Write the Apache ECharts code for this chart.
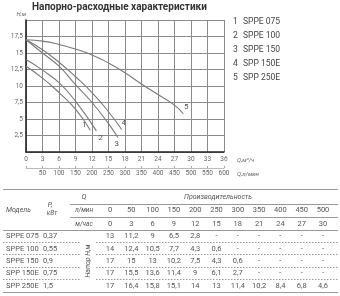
<!DOCTYPE html>
<html>
<head>
<meta charset="utf-8">
<script src="https://cdn.jsdelivr.net/npm/echarts@6/dist/echarts.min.js"></script>
<style>
  html, body { margin: 0; padding: 0; background: #fff; }
  #chart { width: 340px; height: 296px; }
</style>
</head>
<body>
<div id="chart"></div>
<script>
  // модели насосов
  const models = ['SPPE 075', 'SPPE 100', 'SPPE 150', 'SPP 150E', 'SPP 250E']
  const powerKw = ['0,37', '0,55', '0,9', '0,75', '1,5']

  // производительность (шапка таблицы)
  const flowLmin = [0, 50, 100, 150, 200, 250, 300, 350, 400, 450, 500]
  const flowM3h = [0, 3, 6, 9, 12, 15, 18, 21, 24, 27, 30]

  // напор, м (таблица)
  const headSPPE075 = [13, 11.2, 9, 6.5, 2.8]
  const headSPPE100 = [14, 12.4, 10.5, 7.7, 4.3, 0.6]
  const headSPPE150 = [17, 15, 13, 10.2, 7.5, 4.3, 0.6]
  const headSPP150E = [17, 15.5, 13.6, 11.4, 9, 6.1, 2.7]
  const headSPP250E = [17, 16.4, 15.8, 15.1, 14, 13, 11.4, 10.2, 8.4, 6.8, 4.6]

  // кривые на графике [Q м3/ч, H м]
  const curveSPPE075 = [[0, 13], [3, 11.2], [6, 9], [9, 6.5], [11.7, 3.3]]
  const curveSPPE100 = [[0, 14], [3, 12.4], [6, 10.5], [9, 7.7], [12.8, 3.2]]
  const curveSPPE150 = [[0, 17], [3, 15], [6, 13], [9, 10.2], [12, 7.5], [15, 4.3], [16.7, 2.2]]
  const curveSPP150E = [[0, 17], [3, 15.5], [6, 13.6], [9, 11.4], [12, 9], [15, 6.1], [17.4, 3.4]]
  const curveSPP250E = [[0, 17], [3, 16.8], [6, 16.3], [9, 15.6], [12, 14.7], [15, 13.5], [18, 12], [21, 10.3], [24, 8.7], [27, 7.1], [28.6, 5.8]]

  const headRows = [headSPPE075, headSPPE100, headSPPE150, headSPP150E, headSPP250E]
  const curves = [curveSPPE075, curveSPPE100, curveSPPE150, curveSPP150E, curveSPP250E]
  const labelOffsets = [[-6, -5], [4, 7], [-1, 7], [2, -7], [3, -7]]

  const font = 'Roboto'
  const txtColor = '#555'
  const fmt = v => (v === undefined || v === null) ? '-' : String(v).replace('.', ',')

  const series = curves.map((c, idx) => ({
    name: models[idx],
    type: 'line',
    smooth: true,
    symbol: 'circle',
    symbolSize: 0.1,
    showSymbol: true,
    silent: true,
    lineStyle: { color: '#7a7a7a', width: 1.1 },
    itemStyle: { color: '#7a7a7a' },
    data: c.map((p, i) => i === c.length - 1 ? {
      value: p,
      label: {
        show: true,
        position: 'inside',
        offset: labelOffsets[idx],
        formatter: String(idx + 1),
        fontSize: 8,
        color: '#555',
        fontFamily: font
      }
    } : p)
  }))

  // таблица и легенда
  const graphic = []
  const text = (x, y, t, opt) => graphic.push(Object.assign({
    type: 'text', x: x, y: y, silent: true,
    style: Object.assign({
      text: t, fontSize: 7.5, fill: txtColor, fontFamily: font,
      align: 'left', verticalAlign: 'middle'
    }, (opt && opt.style) || {})
  }, (opt && opt.el) || {}))
  const line = (x1, y, x2, dash) => graphic.push({
    type: 'line', silent: true,
    shape: { x1: x1, y1: y + 0.5, x2: x2, y2: y + 0.5 },
    style: { stroke: '#999', lineWidth: 1, lineDash: dash ? [1.5, 1.5] : null }
  })

  models.forEach((m, i) => {
    text(233, 22 + i * 13.9, String(i + 1), { style: { fontSize: 8.5, fill: '#444' } })
    text(243, 22 + i * 13.9, m, { style: { fontSize: 8.5, fill: '#444' } })
  })

  const colX = i => 110 + i * 21.3
  line(3, 189, 338)
  line(70, 204, 338)
  line(70, 217, 338)
  line(3, 230, 338)
  line(3, 292, 338)
  ;[242, 254, 267, 279].forEach(y => {
    line(3, y, 80, true)
    line(96, y, 338, true)
  })

  text(84, 197, 'Q', { style: { fontStyle: 'italic', align: 'center' } })
  text(218, 197, 'Производительность', { style: { fontStyle: 'italic', align: 'center', fontSize: 7 } })
  text(6, 210, 'Модель', { style: { fontStyle: 'italic', fontSize: 7 } })
  text(50, 205, 'P,', { style: { fontStyle: 'italic', align: 'center', fontSize: 7 } })
  text(52, 213, 'кВт', { style: { fontStyle: 'italic', align: 'center', fontSize: 6.5 } })
  text(84, 210, 'л/мин', { style: { fontStyle: 'italic', align: 'center', fontSize: 6.5 } })
  text(84, 224, 'м/час', { style: { fontStyle: 'italic', align: 'center', fontSize: 6.5 } })
  text(88, 261, 'Напор H,м', { style: { fontStyle: 'italic', align: 'center', fontSize: 7 }, el: { rotation: Math.PI / 2 } })

  flowLmin.forEach((v, i) => text(colX(i), 210, String(v), { style: { align: 'center' } }))
  flowM3h.forEach((v, i) => text(colX(i), 224, String(v), { style: { align: 'center' } }))

  models.forEach((m, r) => {
    const y = 236.5 + r * 12.3
    text(6, y, m)
    text(43, y, powerKw[r])
    flowM3h.forEach((q, i) => text(colX(i), y, fmt(headRows[r][i]), { style: { align: 'center' } }))
  })

  // подписи осей Q
  const axisName = (t, y) => text(237, y, t, { style: { fontSize: 6, fill: '#666', fontStyle: 'italic' } })
  axisName('Q,м³/ч', 160)
  axisName('Q,л/мин', 174)

  const option = {
    animation: false,
    title: {
      text: 'Напорно-расходные характеристики',
      left: 32,
      top: 2,
      padding: 0,
      textStyle: { color: '#333', fontSize: 10, fontWeight: 'bold', fontFamily: font }
    },
    grid: { left: 26, right: 116, top: 20, bottom: 144 },
    xAxis: [{
      type: 'value',
      min: 0,
      max: 36,
      interval: 3,
      axisLine: { lineStyle: { color: '#222', width: 1.6 } },
      axisTick: { show: false },
      axisLabel: { fontSize: 6.5, color: '#666', margin: 4, fontFamily: font },
      splitLine: { lineStyle: { color: '#8a8a8a', width: 1 } }
    }, {
      type: 'value',
      position: 'bottom',
      offset: 16,
      min: 0,
      max: 600,
      interval: 50,
      axisLine: { show: true, lineStyle: { color: '#aaa', width: 0.8 } },
      axisTick: { show: true, inside: true, length: 2, lineStyle: { color: '#aaa' } },
      axisLabel: {
        fontSize: 6.5, color: '#666', margin: 2, fontFamily: font,
        formatter: v => v === 0 ? '' : String(v)
      },
      splitLine: { show: false }
    }],
    yAxis: {
      type: 'value',
      min: 0,
      max: 20,
      interval: 2.5,
      name: 'H,м',
      nameGap: 3,
      nameTextStyle: { fontSize: 6, color: '#666', fontStyle: 'italic', align: 'right', fontFamily: font },
      axisLine: { show: true, lineStyle: { color: '#222', width: 1.6 } },
      axisTick: { show: false },
      axisLabel: {
        fontSize: 6.5, color: '#666', margin: 3, fontFamily: font,
        formatter: v => (v === 0 || v === 20) ? '' : fmt(v)
      },
      splitLine: { lineStyle: { color: '#8a8a8a', width: 1 } }
    },
    graphic: graphic,
    series: series
  }

  const chart = echarts.init(document.getElementById('chart'))
  chart.setOption(option)
</script>
</body>
</html>
